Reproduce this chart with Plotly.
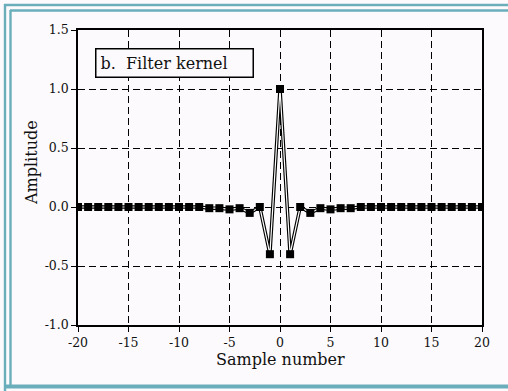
import plotly.graph_objects as go

# Data
sample_number = list(range(-20, 21))
half_kernel = [1.0, -0.40, 0.0, -0.05, -0.01, -0.02, -0.01, -0.01, 0.0, 0.0,
               0.0, 0.0, 0.0, 0.0, 0.0, 0.0, 0.0, 0.0, 0.0, 0.0, 0.0]
amplitude = half_kernel[:0:-1] + half_kernel
x_ticks = [-20, -15, -10, -5, 0, 5, 10, 15, 20]
x_tick_labels = ["-20", "-15", "-10", "-5", "0", "5", "10", "15", "20"]
y_ticks = [-1.0, -0.5, 0.0, 0.5, 1.0, 1.5]
y_tick_labels = ["-1.0", "-0.5", "0.0", "0.5", "1.0", "1.5"]

W, H = 508, 391
L, R, T, B = 78, 482, 30, 325
BG = "#fcfafc"
TEAL = "#6aaebb"
FONT = "DejaVu Serif"

def px(xp):
    return (xp - L) / (R - L)

def py(yp):
    return (B - yp) / (B - T)

fig = go.Figure()
fig.add_trace(go.Scatter(x=sample_number, y=amplitude, mode="lines",
                         line=dict(color="black", width=3.5), hoverinfo="skip"))
fig.add_trace(go.Scatter(x=sample_number, y=amplitude, mode="lines",
                         line=dict(color="white", width=1.2), hoverinfo="skip"))
fig.add_trace(go.Scatter(x=sample_number, y=amplitude, mode="markers",
                         marker=dict(symbol="square", size=8, color="black",
                                     line=dict(width=0))))

axis_common = dict(showline=True, linecolor="black", linewidth=1.5, mirror=True,
                   ticks="outside", ticklen=5, tickwidth=1.2, tickcolor="black",
                   showgrid=True, gridcolor="black", gridwidth=1, griddash="7px,4px",
                   zeroline=False, tickfont=dict(family=FONT, size=12.5, color="#111"))

fig.update_xaxes(range=[-20, 20], tickvals=x_ticks, ticktext=x_tick_labels, **axis_common)
fig.update_yaxes(range=[-1.0, 1.5], tickvals=y_ticks, ticktext=y_tick_labels, **axis_common)

fig.add_annotation(x=0.5, y=py(359), xref="paper", yref="paper", text="Sample number",
                   showarrow=False, font=dict(family=FONT, size=16, color="#111"),
                   xanchor="center", yanchor="middle")
fig.add_annotation(x=px(31), y=py(163), xref="paper", yref="paper", text="Amplitude",
                   showarrow=False, textangle=-90, font=dict(family=FONT, size=16, color="#111"),
                   xanchor="center", yanchor="middle")
fig.add_annotation(x=px(95), y=py(48), xref="paper", yref="paper",
                   text="b.&nbsp;&nbsp;Filter kernel", showarrow=False,
                   font=dict(family=FONT, size=16, color="#111"),
                   xanchor="left", yanchor="top", bgcolor=BG, bordercolor="black",
                   borderwidth=1.5, borderpad=4, width=148, align="left")

# decorative teal frame (left edges drawn as thin rectangles)
frame_lines = [
    (4, 5, 508, 5, 2.5),
    (10, 10.5, 508, 10.5, 2.5),
    (4, 386.5, 508, 386.5, 4),
]
for x0, y0, x1, y1, w in frame_lines:
    fig.add_shape(type="line", xref="paper", yref="paper",
                  x0=px(x0), y0=py(y0), x1=px(x1), y1=py(y1),
                  line=dict(color=TEAL, width=w), layer="above")
frame_bars = [(3.8, 6.2, 4, 391), (9.3, 11.7, 10, 387)]
for x0, x1, y0, y1 in frame_bars:
    fig.add_shape(type="rect", xref="paper", yref="paper",
                  x0=px(x0), x1=px(x1), y0=py(y0), y1=py(y1),
                  fillcolor=TEAL, line=dict(width=0), layer="above")

fig.update_layout(width=W, height=H, margin=dict(l=L, r=W - R, t=T, b=H - B),
                  paper_bgcolor=BG, plot_bgcolor=BG, showlegend=False)

fig.write_html("out.html", config={"displayModeBar": False},
               post_script="document.body.style.margin='0';"
                           "document.body.style.overflow='hidden';"
                           f"document.body.style.background='{BG}';")
